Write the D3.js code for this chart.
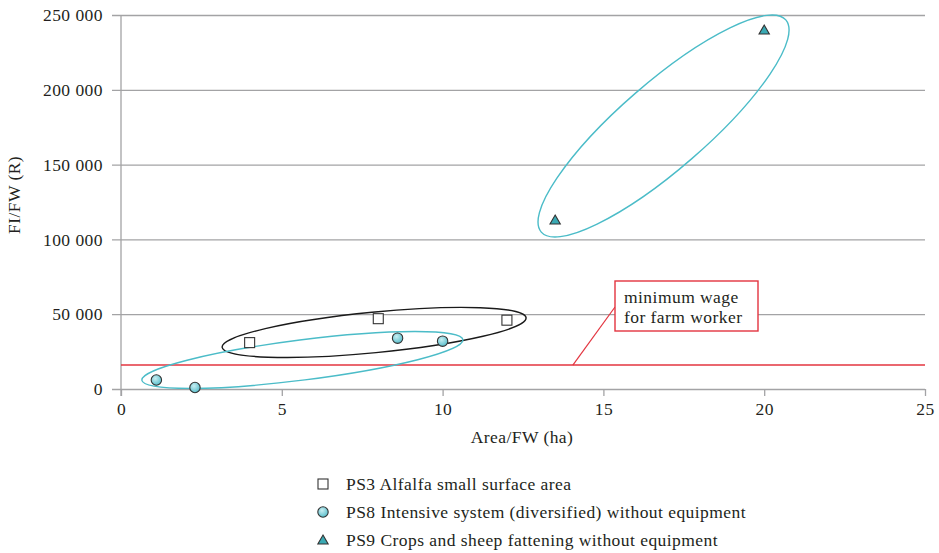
<!DOCTYPE html>
<html><head><meta charset="utf-8">
<script src="https://cdn.jsdelivr.net/npm/d3@7"></script>
<style>body{margin:0;background:#fff}svg{display:block}text{font-family:"Liberation Serif","DejaVu Serif",serif;fill:#231f20;letter-spacing:0.45px}</style>
</head><body><svg id="c" width="939" height="553"></svg>
<script>
const xTicks = [0, 5, 10, 15, 20, 25];
const yTicks = [0, 50000, 100000, 150000, 200000, 250000];
const seriesNames = ["PS3 Alfalfa small surface area", "PS8 Intensive system (diversified) without equipment", "PS9 Crops and sheep fattening without equipment"];
const ps3X = [4, 8, 12];
const ps3Y = [31000, 47000, 46000];
const ps8X = [1.1, 2.3, 8.6, 10];
const ps8Y = [6000, 1000, 34000, 32000];
const ps9X = [13.5, 20];
const ps9Y = [113000, 240000];
const minWage = 16000;
const annotationText = ["minimum wage", "for farm worker"];
// enclosing ellipses: centre in data units
const groupCx = [7.87, 5.64, 16.87];
const groupCy = [37800, 19400, 175800];

const svg = d3.select("#c");
const W = 939, H = 553;
const m = {l: 121, r: 14, t: 15, b: 164};
const FS = 17.5;
const x = d3.scaleLinear().domain([0, 25]).range([m.l, W - m.r]);
const y = d3.scaleLinear().domain([0, 250000]).range([H - m.b, m.t]);
const fmt = d => d3.format(",")(d).replace(/,/g, " ");
const grid = "#a3a3a5";

// grid
const gy = svg.append("g").attr("transform", `translate(${m.l},0)`)
  .call(d3.axisLeft(y).tickValues(yTicks).tickSize(9).tickPadding(9).tickFormat(fmt));
gy.select(".domain").remove();
gy.selectAll(".tick line").attr("stroke", grid).attr("x2", W - m.r - m.l).attr("x1", -9).attr("stroke-width", 1.3);
gy.selectAll(".tick text").attr("font-size", FS).attr("font-family", "Liberation Serif").attr("fill", "#231f20");

const gx = svg.append("g").attr("transform", `translate(0,${y(0)})`)
  .call(d3.axisBottom(x).tickValues(xTicks).tickSize(7).tickPadding(7));
gx.select(".domain").remove();
gx.selectAll(".tick line").attr("stroke", grid).attr("stroke-width", 1.3);
gx.selectAll(".tick text").attr("font-size", FS).attr("font-family", "Liberation Serif").attr("fill", "#231f20");

svg.append("line").attr("x1", x(0)).attr("x2", x(0)).attr("y1", y(250000)).attr("y2", y(0) + 7)
  .attr("stroke", grid).attr("stroke-width", 1.3);

// axis titles
svg.append("text").attr("x", 522).attr("y", 443).attr("text-anchor", "middle")
  .attr("font-size", FS).text("Area/FW (ha)");
svg.append("text").attr("transform", `translate(20,195) rotate(-90)`)
  .attr("text-anchor", "middle").attr("font-size", FS).text("FI/FW (R)");

// minimum wage line
const red = "#e3343f";
svg.append("line").attr("x1", x(0)).attr("x2", x(25)).attr("y1", y(minWage)).attr("y2", y(minWage))
  .attr("stroke", red).attr("stroke-width", 1.4);
svg.append("line").attr("x1", x(14.05)).attr("y1", y(minWage)).attr("x2", 615).attr("y2", 307)
  .attr("stroke", red).attr("stroke-width", 1.2);
svg.append("rect").attr("x", 615).attr("y", 281).attr("width", 143).attr("height", 50)
  .attr("fill", "#fff").attr("stroke", red).attr("stroke-width", 1.4);
annotationText.forEach((t, i) => svg.append("text").attr("x", 624).attr("y", 303 + i * 20)
  .attr("font-size", FS).text(t));

// ellipses
const ellStyle = [
  {rx: 152.7, ry: 20.3, rot: -5.55, c: "#1a1a1a"},
  {rx: 161.8, ry: 20.1, rot: -7.2, c: "#4bbcc8"},
  {rx: 161.9, ry: 43.2, rot: -40.95, c: "#4bbcc8"}
];
groupCx.forEach((cx, i) => {
  const s = ellStyle[i];
  svg.append("ellipse").attr("cx", 0).attr("cy", 0).attr("rx", s.rx).attr("ry", s.ry)
    .attr("transform", `translate(${x(cx)},${y(groupCy[i])}) rotate(${s.rot})`)
    .attr("fill", "none").attr("stroke", s.c).attr("stroke-width", 1.4);
});

// gradient for circles
const defs = svg.append("defs");
const gr = defs.append("radialGradient").attr("id", "cg").attr("cx", "40%").attr("cy", "35%").attr("r", "65%");
gr.append("stop").attr("offset", "0%").attr("stop-color", "#c8eef2");
gr.append("stop").attr("offset", "100%").attr("stop-color", "#5bbfcc");

const stroke = "#333";
function square(g, cx, cy) {
  g.append("rect").attr("x", cx - 5).attr("y", cy - 5).attr("width", 10).attr("height", 10)
    .attr("fill", "#fff").attr("stroke", stroke).attr("stroke-width", 1.1);
}
function circle(g, cx, cy) {
  g.append("circle").attr("cx", cx).attr("cy", cy).attr("r", 5.2)
    .attr("fill", "url(#cg)").attr("stroke", stroke).attr("stroke-width", 1.1);
}
function tri(g, cx, cy) {
  g.append("path").attr("d", d3.symbol(d3.symbolTriangle, 46)()).attr("transform", `translate(${cx},${cy + 1})`)
    .attr("fill", "#3aa9b3").attr("stroke", stroke).attr("stroke-width", 1.1);
}
const pts = svg.append("g");
ps3X.forEach((v, i) => square(pts, x(v), y(ps3Y[i])));
ps8X.forEach((v, i) => circle(pts, x(v), y(ps8Y[i])));
ps9X.forEach((v, i) => tri(pts, x(v), y(ps9Y[i])));

// legend
const makers = [square, circle, tri];
const lg = svg.append("g");
seriesNames.forEach((n, i) => {
  const ly = 484 + i * 28;
  makers[i](lg, 323, ly);
  lg.append("text").attr("x", 346).attr("y", ly + 6).attr("font-size", FS).text(n);
});
</script></body></html>
